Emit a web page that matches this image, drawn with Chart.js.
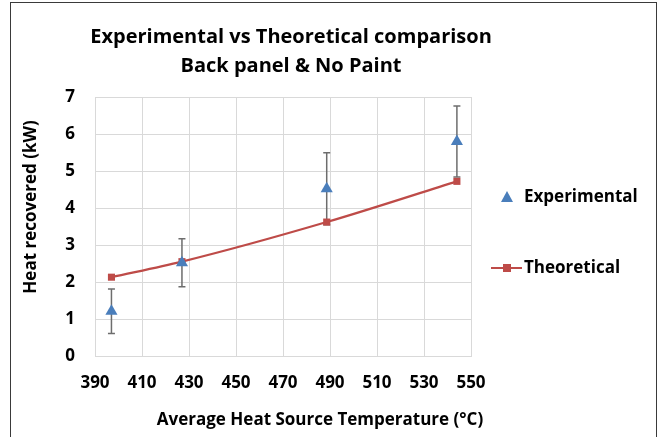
<!DOCTYPE html>
<html>
<head>
<meta charset="utf-8">
<script src="https://cdn.jsdelivr.net/npm/chart.js@4.4.1/dist/chart.umd.min.js"></script>
<style>
  html, body { margin: 0; padding: 0; background: #fff; }
  #wrap { position: relative; width: 667px; height: 437px; }
</style>
</head>
<body>
<div id="wrap"><canvas id="c" width="667" height="437"></canvas></div>
<script>
// ---- data ----
const chartTitle = ["Experimental vs Theoretical comparison", "Back panel & No Paint"];
const xAxisTitle = "Average Heat Source Temperature (°C)";
const yAxisTitle = "Heat recovered (kW)";
const seriesNames = ["Experimental", "Theoretical"];
const temperatures = [397, 427, 488.6, 544];
const experimental = [1.21, 2.52, 4.52, 5.80];
const experimentalError = [0.60, 0.65, 0.97, 0.96];
const theoretical = [2.13, 2.55, 3.62, 4.72];
const xTickValues = [390, 410, 430, 450, 470, 490, 510, 530, 550];
const yTickValues = [0, 1, 2, 3, 4, 5, 6, 7];

const FONT = "'Open Sans', Lato, sans-serif";
const BLUE = "#4a7ebb";
const RED = "#be4b48";

const toPoints = (xs, ys) => xs.map((x, i) => ({ x: x, y: ys[i] }));

const errorBarPlugin = {
  id: 'errorBars',
  beforeDatasetsDraw(chart) {
    const ctx = chart.ctx;
    const xs = chart.scales.x, ys = chart.scales.y;
    ctx.save();
    ctx.strokeStyle = "#6d6d6d";
    ctx.lineWidth = 1.5;
    temperatures.forEach((t, i) => {
      const px = xs.getPixelForValue(t);
      const top = ys.getPixelForValue(experimental[i] + experimentalError[i]);
      const bot = ys.getPixelForValue(experimental[i] - experimentalError[i]);
      ctx.beginPath();
      ctx.moveTo(px, top); ctx.lineTo(px, bot);
      ctx.moveTo(px - 3.5, top); ctx.lineTo(px + 3.5, top);
      ctx.moveTo(px - 3.5, bot); ctx.lineTo(px + 3.5, bot);
      ctx.stroke();
    });
    ctx.restore();
  }
};

const decorPlugin = {
  id: 'decor',
  beforeDraw(chart) {
    const ctx = chart.ctx;
    ctx.save();
    ctx.fillStyle = "#fff";
    ctx.fillRect(0, 0, chart.width, chart.height);
    ctx.strokeStyle = "#3a3a3a";
    ctx.lineWidth = 1;
    ctx.strokeRect(10.5, 2.5, 646, 500);
    ctx.restore();
  },
  afterDraw(chart) {
    const ctx = chart.ctx;
    ctx.save();
    ctx.fillStyle = "#000";
    ctx.textAlign = "center";
    ctx.textBaseline = "middle";
    // title
    ctx.font = "bold 20px " + FONT;
    ctx.fillText(chartTitle[0], 291, 37);
    ctx.fillText(chartTitle[1], 291, 66);
    // x title
    ctx.font = "bold 17px " + FONT;
    ctx.fillText(xAxisTitle, 320, 420);
    // y title
    ctx.save();
    ctx.translate(31, 207);
    ctx.rotate(-Math.PI / 2);
    ctx.fillText(yAxisTitle, 0, 0);
    ctx.restore();
    // legend
    ctx.textAlign = "left";
    ctx.font = "bold 17px " + FONT;
    const ly1 = 197, ly2 = 268;
    ctx.fillStyle = BLUE;
    ctx.beginPath();
    ctx.moveTo(507, ly1 - 6);
    ctx.lineTo(513, ly1 + 5);
    ctx.lineTo(501, ly1 + 5);
    ctx.closePath();
    ctx.fill();
    ctx.fillStyle = "#000";
    ctx.fillText(seriesNames[0], 524, ly1);
    ctx.strokeStyle = RED;
    ctx.lineWidth = 2;
    ctx.beginPath();
    ctx.moveTo(491, ly2); ctx.lineTo(522, ly2);
    ctx.stroke();
    ctx.fillStyle = RED;
    ctx.fillRect(503, ly2 - 4, 8, 8);
    ctx.fillStyle = "#000";
    ctx.fillText(seriesNames[1], 524, ly2);
    ctx.restore();
  }
};

new Chart(document.getElementById('c'), {
  type: 'scatter',
  data: {
    datasets: [
      {
        label: seriesNames[0],
        data: toPoints(temperatures, experimental),
        pointStyle: 'triangle',
        pointRadius: 7,
        backgroundColor: BLUE,
        borderColor: BLUE,
        borderWidth: 0,
        showLine: false
      },
      {
        label: seriesNames[1],
        data: toPoints(temperatures, theoretical),
        pointStyle: 'rect',
        pointRadius: 5,
        backgroundColor: RED,
        borderColor: RED,
        borderWidth: 2.2,
        pointBorderWidth: 0,
        showLine: true,
        cubicInterpolationMode: 'monotone'
      }
    ]
  },
  options: {
    responsive: false,
    animation: false,
    events: [],
    layout: { padding: { left: 10, top: 97, right: 196, bottom: 0 } },
    plugins: {
      legend: { display: false },
      title: { display: false },
      tooltip: { enabled: false }
    },
    scales: {
      x: {
        type: 'linear',
        min: 390, max: 550,
        afterBuildTicks: (s) => { s.ticks = xTickValues.map(v => ({ value: v })); },
        afterFit: (s) => { s.height = 81; },
        grid: { color: "#d9d9d9", lineWidth: 1, drawTicks: false },
        border: { color: "#d9d9d9" },
        ticks: { padding: 17, color: "#000", font: { family: FONT, size: 17, weight: 'bold' } }
      },
      y: {
        type: 'linear',
        min: 0, max: 7,
        afterBuildTicks: (s) => { s.ticks = yTickValues.map(v => ({ value: v })); },
        afterFit: (s) => { s.width = 85; },
        grid: { color: "#d9d9d9", lineWidth: 1, drawTicks: false },
        border: { color: "#d9d9d9" },
        ticks: { padding: 20, color: "#000", font: { family: FONT, size: 17, weight: 'bold' } }
      }
    }
  },
  plugins: [decorPlugin, errorBarPlugin]
});
</script>
</body>
</html>
